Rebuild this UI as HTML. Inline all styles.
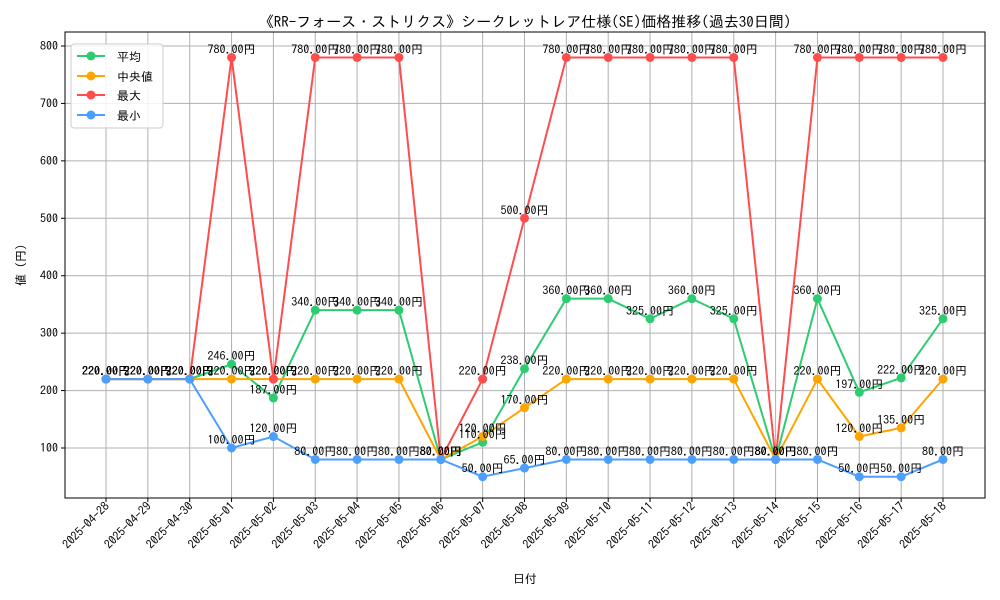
<!DOCTYPE html>
<html><head><meta charset="utf-8">
<style>
html,body{margin:0;padding:0;background:#fff;}
svg{display:block;font-family:"IPAGothic","Noto Sans CJK JP",sans-serif;}
</style></head>
<body>
<svg id="chart" width="1000" height="600" viewBox="0 0 1000 600">
<text x="525" y="27" text-anchor="middle" font-size="15" fill="#000">《RR-フォース・ストリクス》シークレットレア仕様(SE)価格推移(過去30日間)</text>
<g id="grid"></g>
<rect x="65" y="32" width="920" height="466" fill="none" stroke="#000" stroke-width="1"/>
<g id="axes"></g>
<g id="series"></g>
<text x="525" y="583" text-anchor="middle" font-size="12">日付</text>
<text x="25" y="265" text-anchor="middle" font-size="12" transform="rotate(-90 25 265)">値 (円)</text>
<g>
<rect x="71" y="44" width="92" height="84" rx="3" fill="#fff" fill-opacity="0.85" stroke="#ccc"/>
<g><line x1="77" y1="56" x2="105" y2="56" stroke="#2ecc71" stroke-width="2"/><circle cx="91" cy="56" r="4.5" fill="#2ecc71"/><text x="117" y="61" font-size="12">平均</text></g>
<g><line x1="77" y1="76" x2="105" y2="76" stroke="#ffa500" stroke-width="2"/><circle cx="91" cy="76" r="4.5" fill="#ffa500"/><text x="117" y="81" font-size="12">中央値</text></g>
<g><line x1="77" y1="95" x2="105" y2="95" stroke="#ff4d4d" stroke-width="2"/><circle cx="91" cy="95" r="4.5" fill="#ff4d4d"/><text x="117" y="100" font-size="12">最大</text></g>
<g><line x1="77" y1="115" x2="105" y2="115" stroke="#4d9fff" stroke-width="2"/><circle cx="91" cy="115" r="4.5" fill="#4d9fff"/><text x="117" y="120" font-size="12">最小</text></g>
</g>
</svg>
<script>
const dates = ["2025-04-28","2025-04-29","2025-04-30","2025-05-01","2025-05-02","2025-05-03","2025-05-04","2025-05-05","2025-05-06","2025-05-07","2025-05-08","2025-05-09","2025-05-10","2025-05-11","2025-05-12","2025-05-13","2025-05-14","2025-05-15","2025-05-16","2025-05-17","2025-05-18"];
const avgValues = [220,220,220,246,187,340,340,340,80,110,238,360,360,325,360,325,80,360,197,222,325];
const medianValues = [220,220,220,220,220,220,220,220,80,120,170,220,220,220,220,220,80,220,120,135,220];
const maxValues = [220,220,220,780,220,780,780,780,80,220,500,780,780,780,780,780,80,780,780,780,780];
const minValues = [220,220,220,100,120,80,80,80,80,50,65,80,80,80,80,80,80,80,50,50,80];
const yTicks = [100,200,300,400,500,600,700,800];

const NS = "http://www.w3.org/2000/svg";
const xS = i => 106 + i * (943 - 106) / (dates.length - 1);
const yS = v => 448 - (v - 100) * (402 / 700);
function mk(tag, attrs, parent){const e=document.createElementNS(NS,tag);for(const k in attrs)e.setAttribute(k,attrs[k]);parent.appendChild(e);return e;}
const grid=document.getElementById('grid'), axes=document.getElementById('axes'), series=document.getElementById('series');

yTicks.forEach(t=>{
  const y=yS(t);
  const gl=mk('line',{x1:65,x2:985,y1:y,y2:y,stroke:'#b0b0b0','stroke-width':1},grid);
  
  
  mk('line',{x1:61,x2:65,y1:y,y2:y,stroke:'#000'},axes);
  const tx=mk('text',{x:58,y:y+4,'text-anchor':'end','font-size':12},axes);
  tx.textContent=t;
  
  
});
dates.forEach((d,i)=>{
  const x=xS(i);
  const gl=mk('line',{x1:x,x2:x,y1:32,y2:498,stroke:'#b0b0b0','stroke-width':1},grid);
  
  
  mk('line',{x1:x,x2:x,y1:498,y2:502,stroke:'#000'},axes);
  const tx=mk('text',{x:x+4,y:507,'text-anchor':'end','font-size':12,transform:`rotate(-45 ${x+4} 507)`},axes);
  tx.textContent=d;
  
  
});

const defs=[["avg",avgValues,"#2ecc71"],["median",medianValues,"#ffa500"],["max",maxValues,"#ff4d4d"],["min",minValues,"#4d9fff"]];
defs.forEach(([name,vals,col])=>{
  const g=mk('g',{},series);
  
  
  const pl=mk('polyline',{points:vals.map((v,i)=>xS(i)+','+yS(v)).join(' '),fill:'none',stroke:col,'stroke-width':2},g);
  
  
  vals.forEach((v,i)=>{
    const c=mk('circle',{cx:xS(i),cy:yS(v),r:4.5,fill:col},g);
    
    
  });
});
defs.forEach(([name,vals])=>{
  vals.forEach((v,i)=>{
    const t=mk('text',{x:xS(i),y:yS(v)-4,'text-anchor':'middle','font-size':12,fill:'#000'},series);
    t.textContent=v.toFixed(2)+'円';
    
    
  });
});
</script>
</body></html>
